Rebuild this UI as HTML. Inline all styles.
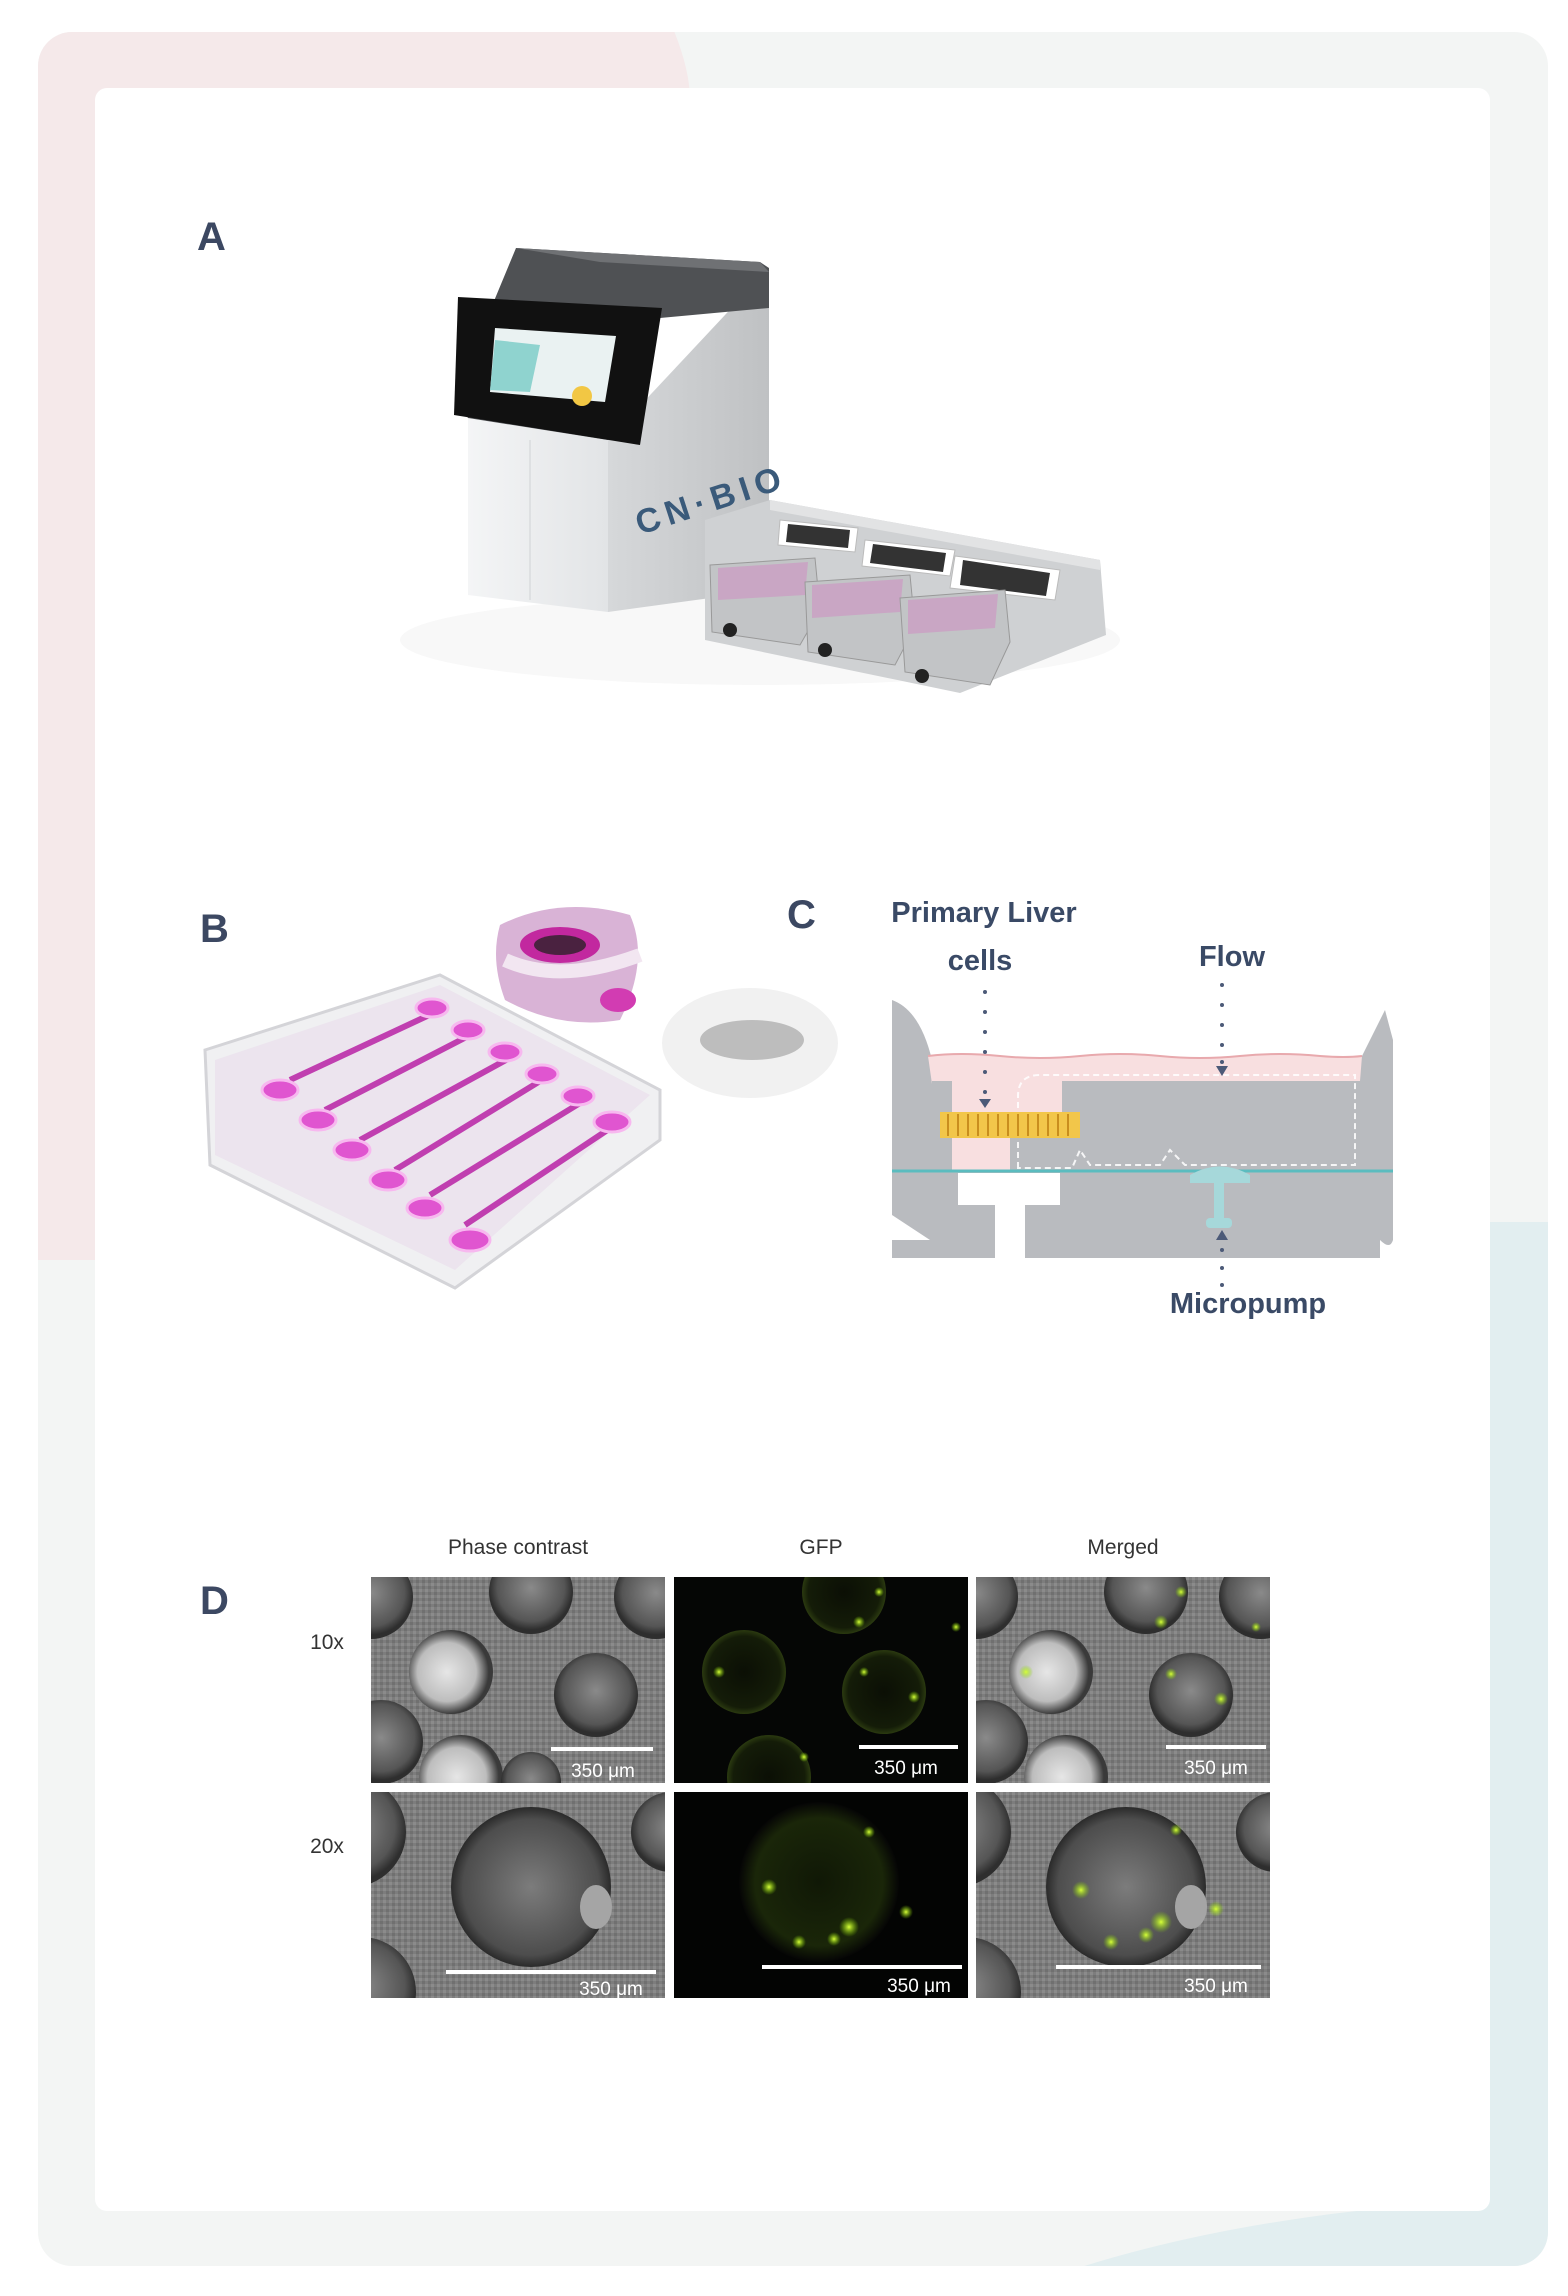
<!DOCTYPE html>
<html><head><meta charset="utf-8"><style>
html,body{margin:0;padding:0;background:#fff}
svg{display:block}
text{font-family:"Liberation Sans","DejaVu Sans",sans-serif}
</style></head><body>
<svg width="1568" height="2296" viewBox="0 0 1568 2296" xmlns="http://www.w3.org/2000/svg">
<defs>
<clipPath id="frame"><rect x="38" y="32" width="1510" height="2234" rx="34"/></clipPath>
<radialGradient id="well" cx="50%" cy="45%" r="50%"><stop offset="0" stop-color="#8a8a8a"/><stop offset="0.8" stop-color="#555"/><stop offset="1" stop-color="#2e2e2e"/></radialGradient>
<radialGradient id="wellB" cx="45%" cy="50%" r="50%"><stop offset="0" stop-color="#e6e6e6"/><stop offset="0.7" stop-color="#bdbdbd"/><stop offset="1" stop-color="#3a3a3a"/></radialGradient>
<radialGradient id="gfpw" cx="50%" cy="50%" r="50%"><stop offset="0" stop-color="#0b0f05"/><stop offset="0.85" stop-color="#141c08"/><stop offset="1" stop-color="#2b3a10"/></radialGradient>
<radialGradient id="big" cx="50%" cy="50%" r="50%"><stop offset="0" stop-color="#7c7c7c"/><stop offset="0.85" stop-color="#4d4d4d"/><stop offset="1" stop-color="#2a2a2a"/></radialGradient>
<radialGradient id="bigG" cx="50%" cy="50%" r="50%"><stop offset="0" stop-color="#101806"/><stop offset="0.8" stop-color="#1a2609"/><stop offset="1" stop-color="#050505"/></radialGradient>
<radialGradient id="dot" cx="50%" cy="50%" r="50%"><stop offset="0" stop-color="#d8ff3a"/><stop offset="1" stop-color="#7fd000" stop-opacity="0"/></radialGradient>
<linearGradient id="side" x1="0" x2="1"><stop offset="0" stop-color="#d6d8da"/><stop offset="1" stop-color="#bfc1c3"/></linearGradient>
<linearGradient id="front" x1="0" x2="1"><stop offset="0" stop-color="#f4f5f6"/><stop offset="1" stop-color="#e2e4e6"/></linearGradient>
<pattern id="tex" width="6" height="6" patternUnits="userSpaceOnUse"><rect width="6" height="6" fill="#7d7d7d"/><rect width="3" height="3" fill="#8b8b8b"/><rect x="3" y="3" width="3" height="3" fill="#707070"/></pattern>
</defs>

<g clip-path="url(#frame)">
<rect x="0" y="0" width="1568" height="2296" fill="#f3f5f4"/>
<path d="M0 0 H660 Q690 60 690 100 V1260 L0 1260 Z" fill="#f5e9ea"/>
<path d="M1490 1222 H1568 V2296 H1000 Q1200 2215 1490 2200 Z" fill="#e2eef0"/>
</g>
<rect x="95" y="88" width="1395" height="2123" rx="12" fill="#ffffff"/>

<text x="197" y="250" font-size="40" font-weight="bold" fill="#3c4862">A</text>
<ellipse cx="760" cy="640" rx="360" ry="45" fill="#f8f8f8"/>
<!-- main unit -->
<polygon points="769,268 769,590 608,612 608,440" fill="url(#side)"/>
<polygon points="468,418 608,440 608,612 468,595" fill="url(#front)"/>
<polygon points="516,248 760,262 769,268 769,308 660,318 608,440 468,418 455,395" fill="#4f5154"/>
<polygon points="516,248 760,262 769,272 600,262" fill="#6f7174"/>
<polygon points="458,297 662,308 640,445 454,415" fill="#111" />
<polygon points="495,328 616,336 605,402 490,392" fill="#eaf2f2"/>
<polygon points="495,340 540,345 530,392 490,390" fill="#8fd3cf"/>
<circle cx="582" cy="396" r="10" fill="#f2c744"/>
<text x="640" y="535" font-size="34" font-weight="bold" fill="#3a5a7a" transform="rotate(-18 640 535)" letter-spacing="6">CN·BIO</text>
<line x1="530" y1="440" x2="530" y2="600" stroke="#d0d2d4"/>
<!-- tray -->
<polygon points="770,500 1100,560 1106,635 960,693 705,640 705,520" fill="#cfd1d3"/>
<polygon points="770,500 1100,560 1100,570 770,510" fill="#e2e3e4"/>
<polygon points="780,520 858,528 855,552 778,545" fill="#fff" stroke="#bbb"/>
<polygon points="788,524 850,530 848,548 786,542" fill="#333"/>
<polygon points="865,540 955,550 950,576 862,566" fill="#fff" stroke="#bbb"/>
<polygon points="873,544 946,553 943,572 870,563" fill="#333"/>
<polygon points="955,556 1060,570 1055,600 950,588" fill="#fff" stroke="#bbb"/>
<polygon points="963,560 1050,573 1046,596 960,585" fill="#333"/>
<polygon points="710,565 815,558 820,610 800,645 712,632" fill="#c2c4c6" stroke="#999"/>
<polygon points="718,568 808,562 805,595 718,600" fill="#c9a6c4"/>
<circle cx="730" cy="630" r="7" fill="#222"/>
<polygon points="805,582 910,575 915,627 895,665 808,652" fill="#c2c4c6" stroke="#999"/>
<polygon points="812,585 903,579 900,612 812,618" fill="#c9a6c4"/>
<circle cx="825" cy="650" r="7" fill="#222"/>
<polygon points="900,598 1005,590 1010,642 990,685 905,672" fill="#c2c4c6" stroke="#999"/>
<polygon points="908,600 998,594 995,628 908,634" fill="#c9a6c4"/>
<circle cx="922" cy="676" r="7" fill="#222"/>

<text x="200" y="942" font-size="40" font-weight="bold" fill="#3c4862">B</text>
<polygon points="205,1050 440,975 660,1090 660,1140 455,1288 210,1165" fill="#f0f0f2" stroke="#d4d4d8" stroke-width="3"/>
<polygon points="215,1060 440,985 650,1095 455,1270 215,1155" fill="#ece4ee"/>
<g stroke="#c03fb0" stroke-width="6" fill="none">
<line x1="290" y1="1080" x2="440" y2="1010"/>
<line x1="325" y1="1110" x2="480" y2="1030"/>
<line x1="360" y1="1140" x2="515" y2="1055"/>
<line x1="395" y1="1170" x2="550" y2="1075"/>
<line x1="430" y1="1195" x2="585" y2="1100"/>
<line x1="465" y1="1225" x2="615" y2="1125"/>
</g>
<g fill="#e055d0" stroke="#f7b8ef" stroke-width="3">
<ellipse cx="280" cy="1090" rx="18" ry="10"/><ellipse cx="318" cy="1120" rx="18" ry="10"/>
<ellipse cx="352" cy="1150" rx="18" ry="10"/><ellipse cx="388" cy="1180" rx="18" ry="10"/>
<ellipse cx="425" cy="1208" rx="18" ry="10"/><ellipse cx="470" cy="1240" rx="20" ry="11"/>
<ellipse cx="432" cy="1008" rx="16" ry="9"/><ellipse cx="468" cy="1030" rx="16" ry="9"/>
<ellipse cx="505" cy="1052" rx="16" ry="9"/><ellipse cx="542" cy="1074" rx="16" ry="9"/>
<ellipse cx="578" cy="1096" rx="16" ry="9"/><ellipse cx="612" cy="1122" rx="18" ry="10"/>
</g>
<path d="M500 925 Q560 895 630 915 Q650 960 620 1020 Q560 1030 505 1000 Q490 960 500 925Z" fill="#d9b3d6"/>
<ellipse cx="560" cy="945" rx="40" ry="18" fill="#c2289f"/>
<ellipse cx="560" cy="945" rx="26" ry="10" fill="#4a2240"/>
<ellipse cx="618" cy="1000" rx="18" ry="12" fill="#d23cb2"/>
<path d="M505 960 Q560 985 640 955" stroke="#f2e6f1" stroke-width="14" fill="none"/>
<ellipse cx="750" cy="1043" rx="88" ry="55" fill="#f1f1f1"/>
<ellipse cx="752" cy="1040" rx="52" ry="20" fill="#bdbdbd"/>

<text x="787" y="928" font-size="40" font-weight="bold" fill="#3c4862">C</text>
<text x="984" y="922" font-size="29" font-weight="bold" fill="#3a4a66" text-anchor="middle">Primary Liver</text>
<text x="980" y="970" font-size="29" font-weight="bold" fill="#3a4a66" text-anchor="middle">cells</text>
<text x="1232" y="966" font-size="29" font-weight="bold" fill="#3a4a66" text-anchor="middle">Flow</text>
<text x="1248" y="1313" font-size="29" font-weight="bold" fill="#3a4a66" text-anchor="middle">Micropump</text>
<path d="M892 1000 Q920 1010 932 1060 L932 1172 L892 1172 Z" fill="#b9bbbf"/>
<path d="M1385 1010 Q1370 1040 1360 1060 L1360 1172 L1393 1172 L1393 1040 Z" fill="#b9bbbf"/>
<path d="M928 1056 Q960 1052 1000 1056 Q1040 1060 1080 1056 Q1120 1052 1160 1056 Q1200 1060 1240 1056 Q1280 1052 1320 1056 Q1345 1058 1362 1056 L1360 1081 L1062 1081 L1062 1138 L1010 1138 L1010 1172 L952 1172 L952 1140 L940 1140 Z" fill="#f8dfe0"/>
<path d="M928 1056 Q960 1052 1000 1056 Q1040 1060 1080 1056 Q1120 1052 1160 1056 Q1200 1060 1240 1056 Q1280 1052 1320 1056 Q1345 1058 1362 1056" stroke="#e8a9ad" stroke-width="2" fill="none"/>
<rect x="1062" y="1081" width="300" height="91" fill="#b9bbbf"/>
<rect x="1010" y="1138" width="52" height="34" fill="#b9bbbf"/>
<rect x="932" y="1081" width="20" height="91" fill="#b9bbbf"/>
<path d="M1018 1168 L1018 1096 Q1018 1075 1040 1075 L1355 1075 L1355 1165 L1185 1165 L1170 1150 L1160 1165 L1090 1165 L1080 1150 L1072 1168 Z" stroke="#fff" stroke-width="2" stroke-dasharray="6 4" fill="none" opacity="0.85"/>
<rect x="940" y="1112" width="140" height="26" fill="#f2c64a"/>
<g stroke="#c98e1e" stroke-width="2">
<line x1="948" y1="1114" x2="948" y2="1136"/><line x1="958" y1="1114" x2="958" y2="1136"/><line x1="968" y1="1114" x2="968" y2="1136"/><line x1="978" y1="1114" x2="978" y2="1136"/><line x1="988" y1="1114" x2="988" y2="1136"/><line x1="998" y1="1114" x2="998" y2="1136"/><line x1="1008" y1="1114" x2="1008" y2="1136"/><line x1="1018" y1="1114" x2="1018" y2="1136"/><line x1="1028" y1="1114" x2="1028" y2="1136"/><line x1="1038" y1="1114" x2="1038" y2="1136"/><line x1="1048" y1="1114" x2="1048" y2="1136"/><line x1="1058" y1="1114" x2="1058" y2="1136"/><line x1="1068" y1="1114" x2="1068" y2="1136"/>
</g>
<path d="M892 1172 H1393 V1240 Q1390 1250 1380 1240 L1380 1240 H1025 V1205 H1060 V1183 H958 V1205 H995 V1240 H930 L892 1215 Z" fill="#b9bbbf"/>
<rect x="958" y="1173" width="102" height="32" fill="#fff"/>
<rect x="995" y="1205" width="30" height="55" fill="#fff"/>
<rect x="892" y="1240" width="103" height="18" fill="#b9bbbf"/>
<rect x="1025" y="1240" width="355" height="18" fill="#b9bbbf"/>
<line x1="892" y1="1171" x2="1393" y2="1171" stroke="#5bbcbf" stroke-width="3"/>
<path d="M1190 1175 Q1220 1158 1250 1175 L1250 1183 L1190 1183 Z" fill="#a6d8da"/>
<rect x="1214" y="1183" width="10" height="40" fill="#a6d8da"/>
<rect x="1206" y="1218" width="26" height="10" rx="4" fill="#a6d8da"/>
<g fill="#4c5a78">
<circle cx="985" cy="992" r="2"/><circle cx="985" cy="1012" r="2"/><circle cx="985" cy="1032" r="2"/><circle cx="985" cy="1052" r="2"/><circle cx="985" cy="1072" r="2"/><circle cx="985" cy="1092" r="2"/>
<polygon points="979,1099 991,1099 985,1108"/>
<circle cx="1222" cy="985" r="2"/><circle cx="1222" cy="1005" r="2"/><circle cx="1222" cy="1025" r="2"/><circle cx="1222" cy="1045" r="2"/><circle cx="1222" cy="1062" r="2"/>
<polygon points="1216,1066 1228,1066 1222,1076"/>
<polygon points="1216,1240 1228,1240 1222,1230"/>
<circle cx="1222" cy="1250" r="2"/><circle cx="1222" cy="1268" r="2"/><circle cx="1222" cy="1285" r="2"/>
</g>

<text x="200" y="1614" font-size="40" font-weight="bold" fill="#3c4862">D</text>
<text x="518" y="1554" font-size="21" fill="#333" text-anchor="middle">Phase contrast</text>
<text x="821" y="1554" font-size="21" fill="#333" text-anchor="middle">GFP</text>
<text x="1123" y="1554" font-size="21" fill="#333" text-anchor="middle">Merged</text>
<text x="327" y="1649" font-size="21" fill="#333" text-anchor="middle">10x</text>
<text x="327" y="1853" font-size="21" fill="#333" text-anchor="middle">20x</text>

<svg x="371" y="1577" width="294" height="206" viewBox="0 0 294 206">
<rect width="294" height="206" fill="url(#tex)"/>
<circle cx="0" cy="20" r="42" fill="url(#well)"/>
<circle cx="160" cy="15" r="42" fill="url(#well)"/>
<circle cx="285" cy="20" r="42" fill="url(#well)"/>
<circle cx="80" cy="95" r="42" fill="url(#wellB)"/>
<circle cx="225" cy="118" r="42" fill="url(#well)"/>
<circle cx="10" cy="165" r="42" fill="url(#well)"/>
<circle cx="90" cy="200" r="42" fill="url(#wellB)"/>
<circle cx="160" cy="205" r="30" fill="url(#well)"/>
<line x1="180" y1="172" x2="282" y2="172" stroke="#fff" stroke-width="4"/>
<text x="232" y="200" font-size="19" fill="#fff" text-anchor="middle">350 μm</text>
</svg>
<svg x="674" y="1577" width="294" height="206" viewBox="0 0 294 206">
<rect width="294" height="206" fill="#050605"/>
<circle cx="170" cy="15" r="42" fill="url(#gfpw)"/>
<circle cx="70" cy="95" r="42" fill="url(#gfpw)"/>
<circle cx="210" cy="115" r="42" fill="url(#gfpw)"/>
<circle cx="95" cy="200" r="42" fill="url(#gfpw)"/>
<g fill="url(#dot)">
<circle cx="45" cy="95" r="6"/><circle cx="185" cy="45" r="6"/><circle cx="205" cy="15" r="5"/><circle cx="240" cy="120" r="6"/><circle cx="190" cy="95" r="5"/><circle cx="130" cy="180" r="5"/><circle cx="282" cy="50" r="5"/>
</g>
<line x1="185" y1="170" x2="284" y2="170" stroke="#fff" stroke-width="4"/>
<text x="232" y="197" font-size="19" fill="#fff" text-anchor="middle">350 μm</text>
</svg>
<svg x="976" y="1577" width="294" height="206" viewBox="0 0 294 206">
<rect width="294" height="206" fill="url(#tex)"/>
<circle cx="0" cy="20" r="42" fill="url(#well)"/>
<circle cx="170" cy="15" r="42" fill="url(#well)"/>
<circle cx="285" cy="20" r="42" fill="url(#well)"/>
<circle cx="75" cy="95" r="42" fill="url(#wellB)"/>
<circle cx="215" cy="118" r="42" fill="url(#well)"/>
<circle cx="10" cy="165" r="42" fill="url(#well)"/>
<circle cx="90" cy="200" r="42" fill="url(#wellB)"/>
<g fill="url(#dot)">
<circle cx="50" cy="95" r="7"/><circle cx="185" cy="45" r="7"/><circle cx="205" cy="15" r="6"/><circle cx="245" cy="122" r="7"/><circle cx="195" cy="97" r="6"/><circle cx="280" cy="50" r="5"/>
</g>
<line x1="190" y1="170" x2="290" y2="170" stroke="#fff" stroke-width="4"/>
<text x="240" y="197" font-size="19" fill="#fff" text-anchor="middle">350 μm</text>
</svg>
<svg x="371" y="1792" width="294" height="206" viewBox="0 0 294 206">
<rect width="294" height="206" fill="url(#tex)"/>
<circle cx="-20" cy="40" r="55" fill="url(#well)"/>
<circle cx="-10" cy="200" r="55" fill="url(#well)"/>
<circle cx="300" cy="40" r="40" fill="url(#well)"/>
<circle cx="160" cy="95" r="80" fill="url(#big)"/>
<ellipse cx="225" cy="115" rx="16" ry="22" fill="#a5a5a5"/>
<line x1="75" y1="180" x2="285" y2="180" stroke="#fff" stroke-width="4"/>
<text x="240" y="203" font-size="19" fill="#fff" text-anchor="middle">350 μm</text>
</svg>
<svg x="674" y="1792" width="294" height="206" viewBox="0 0 294 206">
<rect width="294" height="206" fill="#030403"/>
<circle cx="145" cy="90" r="80" fill="url(#bigG)"/>
<g fill="url(#dot)">
<circle cx="175" cy="135" r="10"/><circle cx="160" cy="147" r="7"/><circle cx="232" cy="120" r="7"/><circle cx="125" cy="150" r="7"/><circle cx="195" cy="40" r="6"/><circle cx="95" cy="95" r="8"/>
</g>
<line x1="88" y1="175" x2="288" y2="175" stroke="#fff" stroke-width="4"/>
<text x="245" y="200" font-size="19" fill="#fff" text-anchor="middle">350 μm</text>
</svg>
<svg x="976" y="1792" width="294" height="206" viewBox="0 0 294 206">
<rect width="294" height="206" fill="url(#tex)"/>
<circle cx="-20" cy="40" r="55" fill="url(#well)"/>
<circle cx="-10" cy="200" r="55" fill="url(#well)"/>
<circle cx="300" cy="40" r="40" fill="url(#well)"/>
<circle cx="150" cy="95" r="80" fill="url(#big)"/>
<ellipse cx="215" cy="115" rx="16" ry="22" fill="#a5a5a5"/>
<g fill="url(#dot)">
<circle cx="185" cy="130" r="11"/><circle cx="170" cy="143" r="8"/><circle cx="240" cy="117" r="8"/><circle cx="135" cy="150" r="8"/><circle cx="200" cy="38" r="6"/><circle cx="105" cy="98" r="9"/>
</g>
<line x1="80" y1="175" x2="285" y2="175" stroke="#fff" stroke-width="4"/>
<text x="240" y="200" font-size="19" fill="#fff" text-anchor="middle">350 μm</text>
</svg>
</svg>
</body></html>
